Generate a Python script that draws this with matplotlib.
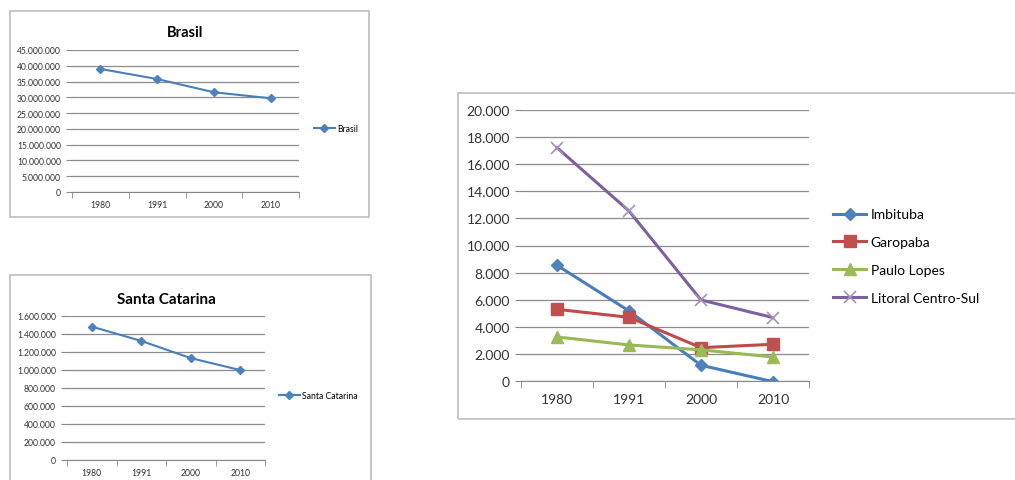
import matplotlib
matplotlib.use('Agg')
import matplotlib.pyplot as plt
from matplotlib.patches import Rectangle
from matplotlib.ticker import FuncFormatter, FixedLocator

plt.rcParams['font.family'] = ['Lato', 'DejaVu Sans']

years = ['1980', '1991', '2000', '2010']
brasil = [39000000, 35800000, 31600000, 29700000]
santa_catarina = [1482000, 1323000, 1132000, 999000]
imbituba = [8540, 5170, 1160, -50]
garopaba = [5290, 4700, 2460, 2710]
paulo_lopes = [3250, 2660, 2300, 1770]
litoral = [17220, 12550, 5980, 4680]

W, H = 1015, 481
fig = plt.figure(figsize=(W / 100, H / 100), dpi=100)

def px_axes(x0, y0, x1, y1):
    return fig.add_axes([x0 / W, (H - y1) / H, (x1 - x0) / W, (y1 - y0) / H])

def frame(x0, y0, x1, y1):
    fig.patches.append(Rectangle((x0 / W, (H - y1) / H), (x1 - x0) / W, (y1 - y0) / H,
                                 transform=fig.transFigure, fill=False,
                                 edgecolor='#bdbdbd', linewidth=1.2))

dots = FuncFormatter(lambda v, p: f'{int(round(v)):,}'.replace(',', '.'))

def style(ax, ymax, ystep, fs):
    n = len(years)
    ax.set_xlim(-0.5, n - 0.5)
    ax.set_ylim(0, ymax)
    ax.set_yticks(range(0, ymax + 1, ystep))
    ax.yaxis.set_major_formatter(dots)
    ax.set_xticks(range(n))
    ax.set_xticklabels(years)
    ax.xaxis.set_minor_locator(FixedLocator([i - 0.5 for i in range(n + 1)]))
    ax.tick_params(axis='x', which='major', length=0, labelsize=fs, pad=fs * 0.9, colors='#333333')
    ax.tick_params(axis='x', which='minor', length=4, color='#868686', direction='out')
    ax.tick_params(axis='y', length=4, color='#868686', labelsize=fs, pad=4, colors='#333333')
    ax.grid(axis='y', color='#8c8c8c', linewidth=0.9)
    ax.set_axisbelow(True)
    for s in ['top', 'right', 'left']:
        ax.spines[s].set_visible(False)
    ax.spines['bottom'].set_color('#868686')
    ax.patch.set_alpha(0)

x = range(len(years))

# Brasil
frame(10, 12, 369, 218)
ax1 = px_axes(72, 51, 299, 193)
ax1.plot(x, brasil, color='#4a7ebb', lw=1.5, marker='D', ms=4, mfc='#4f81bd', mec='#4f81bd', label='Brasil')
style(ax1, 45000000, 5000000, 6.2)
ax1.set_title('Brasil', fontsize=10.5, fontweight='bold', pad=10)
ax1.legend(loc='center left', bbox_to_anchor=(1.03, 0.45), frameon=False, fontsize=6.2,
           handlelength=2.5, handletextpad=0.2)

# Santa Catarina
frame(10, 276, 371, 490)
ax2 = px_axes(67, 317, 265, 461)
ax2.plot(x, santa_catarina, color='#4a7ebb', lw=1.5, marker='D', ms=4, mfc='#4f81bd', mec='#4f81bd',
         label='Santa Catarina')
style(ax2, 1600000, 200000, 6.2)
ax2.set_title('Santa Catarina', fontsize=11, fontweight='bold', pad=9)
ax2.legend(loc='center left', bbox_to_anchor=(1.03, 0.45), frameon=False, fontsize=6.2,
           handlelength=2.5, handletextpad=0.2)

# Litoral Centro-Sul
frame(458, 94, 1020, 420)
ax3 = px_axes(521, 111, 809, 382)
ax3.plot(x, imbituba, color='#4a7ebb', lw=2.2, marker='D', ms=6, mfc='#4f81bd', mec='#4f81bd', label='Imbituba')
ax3.plot(x, garopaba, color='#be4b48', lw=2.2, marker='s', ms=8, mfc='#c0504d', mec='#c0504d', label='Garopaba')
ax3.plot(x, paulo_lopes, color='#98b954', lw=2.2, marker='^', ms=8, mfc='#9bbb59', mec='#9bbb59', label='Paulo Lopes')
ax3.plot(x, litoral, color='#7d60a0', lw=2.2, marker='x', ms=8, mew=1.2, mec='#a591c0', label='Litoral Centro-Sul')
style(ax3, 20000, 2000, 10)
ax3.tick_params(axis='x', which='minor', length=5)
ax3.legend(loc='center left', bbox_to_anchor=(1.04, 0.46), frameon=False, fontsize=10,
           handlelength=2.4, handletextpad=0.3, labelspacing=1.15)

fig.savefig('out.png', dpi=100)
